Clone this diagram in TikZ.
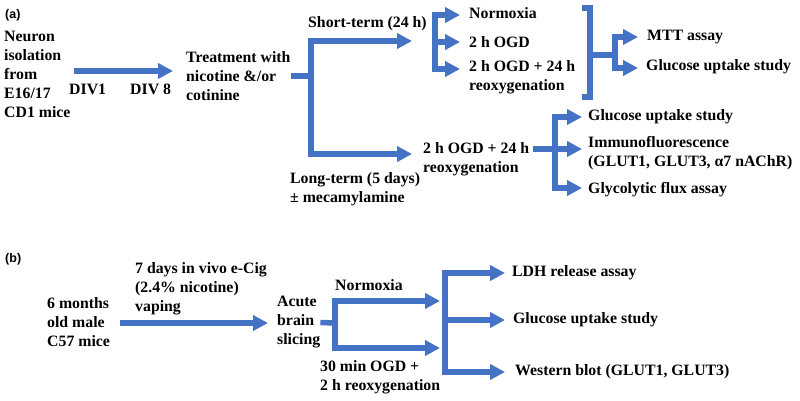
\documentclass[tikz,border=0pt]{standalone}
\usepackage{fontspec}
\setmainfont{Liberation Serif}
\newfontfamily\labfont{Liberation Sans}
\usepackage{xcolor}
\usetikzlibrary{arrows.meta}
\definecolor{flow}{HTML}{4472C4}

\begin{document}
\begin{tikzpicture}[x=1pt,y=-1pt,
  every node/.style={inner sep=0pt,anchor=west,font=\fontsize{15.8}{19}\selectfont\bfseries},
  every text node part/.style={align=left},
  panel/.style={font=\fontsize{12.5}{15}\selectfont\labfont\bfseries},
  bar/.style={draw=flow,line width=5.5pt,line join=miter},
  arr/.style={bar,-{Triangle[length=15pt,width=15pt]}}]
  \useasboundingbox (0,0) rectangle (800,400);
  % (a)
  \node[panel] (a) at (5,15) {(a)};
  \node (0) at (4,74.5) {Neuron\\isolation\\from\\E16/17\\CD1 mice};
  \node (1) at (69,89) {DIV1};
  \node (19a) at (130,89) {DIV 8};
  \node (2) at (186,76) {Treatment with\\nicotine \&/or\\cotinine};
  \node (3) at (308,24) {Short-term (24 h)};
  \node (4) at (290,189) {Long-term (5 days)\\± mecamylamine};
  \node (5) at (469,13) {Normoxia};
  \node (6) at (469,42) {2 h OGD};
  \node (7) at (469,77) {2 h OGD + 24 h\\reoxygenation};
  \node (8) at (647,37) {MTT assay};
  \node (9) at (646,67) {Glucose uptake study};
  \node (10) at (423,159) {2 h OGD + 24 h\\reoxygenation};
  \node (11) at (588,117) {Glucose uptake study};
  \node (12) at (588,153) {Immunofluorescence\\(GLUT1, GLUT3, α7 nAChR)};
  \node (13) at (588,190) {Glycolytic flux assay};
  \coordinate (30) at (74,71);
  \coordinate (31) at (173,71);
  \coordinate (32) at (311,76);
  \coordinate (33) at (412,41);
  \coordinate (34) at (412,154);
  \coordinate (35) at (435,42);
  \coordinate (36) at (460,15);
  \coordinate (37) at (460,42);
  \coordinate (38) at (460,69);
  \coordinate (39) at (582,8);
  \coordinate (40) at (590,55);
  \coordinate (41) at (582,97);
  \coordinate (42) at (615,55);
  \coordinate (43) at (638,37);
  \coordinate (44) at (638,68);
  \coordinate (45) at (533,149);
  \coordinate (46) at (555,149);
  \coordinate (47) at (582,117);
  \coordinate (48) at (582,149);
  \coordinate (49) at (582,188);
  \draw[arr] (30) -- (31);
  \draw[bar] (2.east) -- (32);
  \draw[arr] (32) |- (33);
  \draw[arr] (32) |- (34);
  \draw[arr] (35) |- (36);
  \draw[arr] (35) -- (37);
  \draw[arr] (35) |- (38);
  \draw[bar] (39) -| (40) |- (41);
  \draw[bar] (40) -- (42);
  \draw[arr] (42) |- (43);
  \draw[arr] (42) |- (44);
  \draw[bar] (45) -- (46);
  \draw[arr] (46) |- (47);
  \draw[arr] (46) -- (48);
  \draw[arr] (46) |- (49);
  % (b)
  \node[panel] (b) at (5,259) {(b)};
  \node (14) at (47,322.5) {6 months\\old male\\C57 mice};
  \node (15) at (135,288.5) {7 days in vivo e-Cig\\(2.4\% nicotine)\\vaping};
  \node (16) at (277,322.5) {Acute\\brain\\slicing};
  \node (17) at (335,285) {Normoxia};
  \node (18) at (320,377.5) {30 min OGD +\\2 h reoxygenation};
  \node (19) at (512,273) {LDH release assay};
  \node (20) at (513,320) {Glucose uptake study};
  \node (21) at (515,372) {Western blot (GLUT1, GLUT3)};
  \coordinate (50) at (120,323);
  \coordinate (51) at (268,323);
  \coordinate (52) at (335,323);
  \coordinate (53) at (440,301);
  \coordinate (54) at (440,348);
  \coordinate (55) at (445,320);
  \coordinate (56) at (505,273);
  \coordinate (57) at (505,320);
  \coordinate (58) at (505,372);
  \draw[arr] (50) -- (51);
  \draw[bar] (16.east) -- (52);
  \draw[arr] (52) |- (53);
  \draw[arr] (52) |- (54);
  \draw[arr] (55) |- (56);
  \draw[arr] (55) -- (57);
  \draw[arr] (55) |- (58);
\end{tikzpicture}
\end{document}
